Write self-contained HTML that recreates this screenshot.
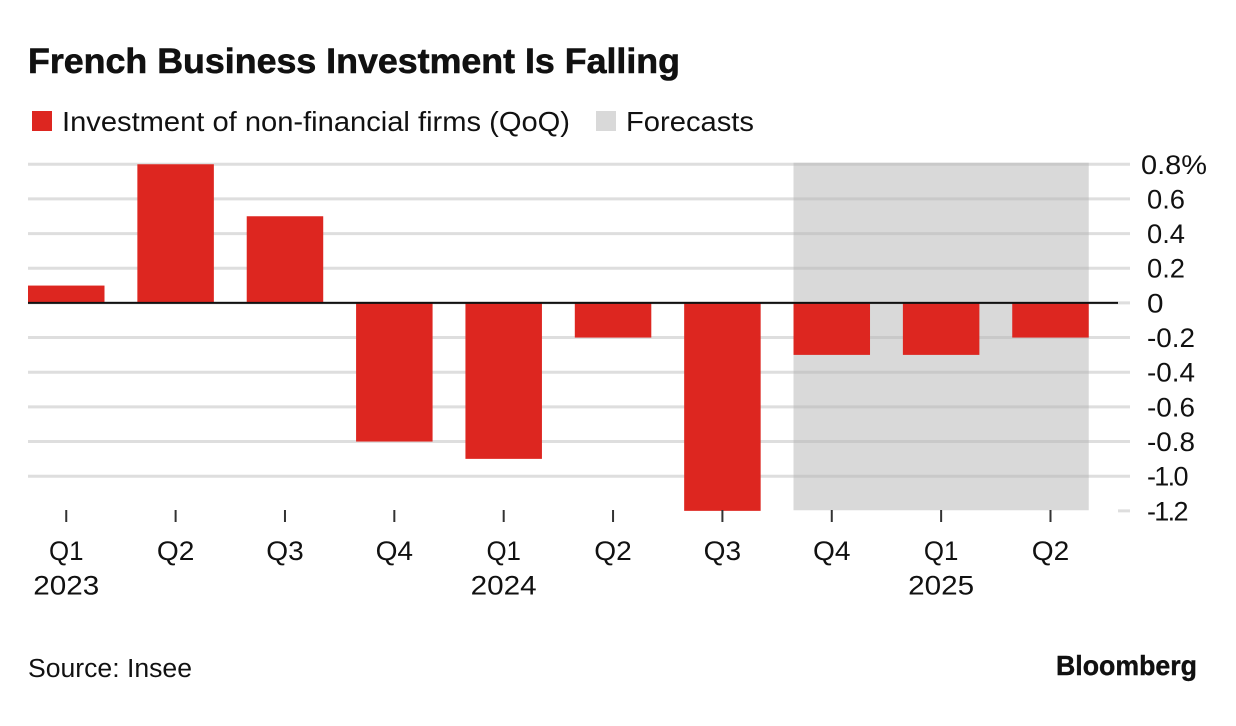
<!DOCTYPE html>
<html lang="en">
<head>
<meta charset="utf-8">
<title>French Business Investment Is Falling</title>
<style>
html,body{margin:0;padding:0;background:#fff;width:1236px;height:726px;overflow:hidden}
svg{display:block}
text{font-family:"Liberation Sans",Arial,sans-serif;fill:#111}
</style>
</head>
<body>
<svg id="chart" xmlns="http://www.w3.org/2000/svg" width="1236" height="726" viewBox="0 0 1236 726">
  <text x="28" y="73" font-size="35.5" font-weight="700" stroke="#111" stroke-width="0.6" textLength="652" lengthAdjust="spacingAndGlyphs">French Business Investment Is Falling</text>
  <rect x="32" y="111" width="20" height="20" fill="#dd2620"/>
  <text x="62" y="131" font-size="28" textLength="508" lengthAdjust="spacingAndGlyphs">Investment of non-financial firms (QoQ)</text>
  <rect x="596" y="111" width="20" height="20" fill="#d9d9d9"/>
  <text x="626" y="131" font-size="28" textLength="128" lengthAdjust="spacingAndGlyphs">Forecasts</text>
  <g id="grid"></g>
  <g id="band"></g>
  <g id="bandgrid"></g>
  <g id="bars"></g>
  <g id="axis"></g>
  <text x="28" y="677" font-size="25.5" textLength="164" lengthAdjust="spacingAndGlyphs">Source: Insee</text>
  <text x="1056" y="675" font-size="28" font-weight="700" stroke="#111" stroke-width="0.4" textLength="141" lengthAdjust="spacingAndGlyphs">Bloomberg</text>
</svg>
<script>
const quarters = ['Q1','Q2','Q3','Q4','Q1','Q2','Q3','Q4','Q1','Q2'];
const years = ['2023','','','','2024','','','','2025',''];
const values = [0.1,0.8,0.5,-0.8,-0.9,-0.2,-1.2,-0.3,-0.3,-0.2];
const forecastFlags = [0,0,0,0,0,0,0,1,1,1];
const yTicks = [0.8,0.6,0.4,0.2,0,-0.2,-0.4,-0.6,-0.8,-1.0,-1.2];
const yTickLabels = ['0.8%','0.6','0.4','0.2','0','-0.2','-0.4','-0.6','-0.8','-1.0','-1.2'];

const NS = 'http://www.w3.org/2000/svg';
function y(v){ return 302.9 - v * 173.3; }
function barLeft(i){ return 28 + i * 109.36; }
const barW = 76.5;
function make(parent, tag, attrs, txt){
  const el = document.createElementNS(NS, tag);
  for (const k in attrs) el.setAttribute(k, attrs[k]);
  if (txt !== undefined) el.textContent = txt;
  document.getElementById(parent).appendChild(el);
  return el;
}
/* the original typeface has a narrow "1" and wider digits than Liberation */
function labelWidth(s){
  let w = 0;
  for (const c of s) {
    if (c === '1') w += 10;
    else if (c === '.') w += 5;
    else if (c === '-') w += 10;
    else if (c === '%') w += 28;
    else if (c === 'Q') w += 21;
    else w += 16.5;
  }
  return w;
}
/* value labels with a "1" tighten spacing instead of squeezing glyphs */
function fitMode(s){ return s.indexOf('1') >= 0 ? 'spacing' : 'spacingAndGlyphs'; }
/* "Q1" cannot tighten without colliding, so it gets a gentle overall fit */
function quarterWidth(s){ return s.indexOf('1') >= 0 ? 34.5 : labelWidth(s); }

yTicks.forEach(function(t, i){
  const isBottom = i === yTicks.length - 1;
  const g = make('grid','line',{x1:isBottom?1118:28,x2:1130,y1:y(t),y2:y(t),stroke:'#dedede','stroke-width':3});
  
  
  const s = yTickLabels[i];
  const lab = make('axis','text',{x:s.indexOf('%')>=0?1141:1147,y:y(t)+9.5,'font-size':27,textLength:labelWidth(s),lengthAdjust:fitMode(s)},s);
  
  
});

const fIdx = forecastFlags.indexOf(1);
const lastIdx = forecastFlags.lastIndexOf(1);
const bandEl = make('band','rect',{x:barLeft(fIdx),y:y(yTicks[0]),width:barLeft(lastIdx)+barW-barLeft(fIdx),height:y(yTicks[yTicks.length-1])-y(yTicks[0])-0.6,fill:'#d9d9d9'});



yTicks.slice(0,-1).forEach(function(t){
  const g = make('bandgrid','line',{x1:barLeft(fIdx),x2:barLeft(lastIdx)+barW,y1:y(t),y2:y(t),stroke:'#c9c9c9','stroke-width':3});
  
  
});

values.forEach(function(v, i){
  const top = y(Math.max(v,0)), bot = y(Math.min(v,0));
  const b = make('bars','rect',{x:barLeft(i),y:top,width:barW,height:bot-top,fill:'#dd2620'});
  
  
  const cx = barLeft(i) + barW / 2;
  const tick = make('axis','line',{x1:cx,x2:cx,y1:510,y2:522,stroke:'#333','stroke-width':2});
  
  
  const q = make('axis','text',{x:cx,y:560,'font-size':27,'text-anchor':'middle',textLength:quarterWidth(quarters[i]),lengthAdjust:'spacingAndGlyphs'},quarters[i]);
  
  
  if (years[i]) {
    const yr = make('axis','text',{x:cx,y:594.5,'font-size':27,'text-anchor':'middle',textLength:labelWidth(years[i]),lengthAdjust:fitMode(years[i])},years[i]);
    
    
  }
});

const zero = make('axis','line',{x1:28,x2:1118,y1:y(0),y2:y(0),stroke:'#111','stroke-width':2});


</script>
</body>
</html>
